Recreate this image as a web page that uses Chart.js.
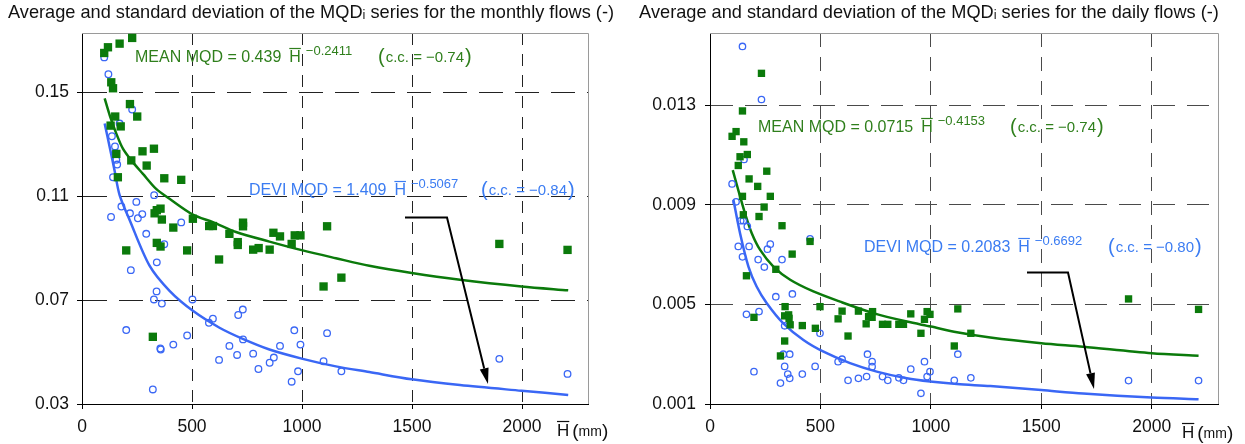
<!DOCTYPE html>
<html>
<head>
<meta charset="utf-8">
<script src="https://cdn.jsdelivr.net/npm/chart.js@4.4.1/dist/chart.umd.min.js"></script>
<style>
    body { margin: 0; background: #fff; }
    .box { position: absolute; top: 0; height: 444px; }
    #leftBox { left: 0; width: 620px; }
    #rightBox { left: 620px; width: 625px; }
</style>
</head>
<body>
<div class="box" id="leftBox"><canvas id="monthlyChart" width="620" height="444"></canvas></div>
<div class="box" id="rightBox"><canvas id="dailyChart" width="625" height="444"></canvas></div>
<script>
// --- Data ---
const xTicks = [0, 500, 1000, 1500, 2000];
const monthlyYTicks = [0.03, 0.07, 0.11, 0.15];
const dailyYTicks = [0.001, 0.005, 0.009, 0.013];

// monthly flows: mean MQD (squares) and st. deviation (circles)
const monthlyMeanH = [101,118,171,228,133,141,218,151,251,130,176,275,327,156,224,294,163,374,451,330,340,357,363,504,415,578,595,732,732,670,708,708,778,803,853,870,900,953,967,993,1114,340,357,201,478,623,1179,1098,322,1897,2207];
const monthlyMeanQ = [0.1653,0.1675,0.1689,0.1711,0.1540,0.1517,0.1456,0.1408,0.1408,0.1373,0.1370,0.1274,0.1284,0.1264,0.1239,0.1219,0.1174,0.1170,0.1164,0.1035,0.1047,0.1053,0.1011,0.1014,0.0980,0.0986,0.0986,0.0999,0.0985,0.0956,0.0924,0.0913,0.0895,0.0901,0.0895,0.0960,0.0946,0.0917,0.0950,0.0950,0.0985,0.0921,0.0907,0.0892,0.0892,0.0857,0.0787,0.0753,0.0559,0.0917,0.0894];
const monthlyDevH = [101,120,228,171,136,150,153,156,160,141,328,247,179,218,274,132,254,451,292,374,340,222,339,327,363,502,201,731,710,595,577,478,356,358,415,670,732,623,705,778,802,853,872,900,965,993,982,953,1114,1098,1179,322,1897,2207];
const monthlyDevQ = [0.1636,0.1571,0.1435,0.1381,0.1332,0.1293,0.1268,0.1241,0.1223,0.1174,0.1105,0.1079,0.1061,0.1035,0.1032,0.1021,0.1016,0.1000,0.0956,0.0916,0.0846,0.0816,0.0734,0.0703,0.0687,0.0703,0.0585,0.0664,0.0643,0.0629,0.0613,0.0564,0.0514,0.0510,0.0529,0.0524,0.0549,0.0470,0.0489,0.0494,0.0435,0.0459,0.0479,0.0524,0.0584,0.0529,0.0426,0.0386,0.0573,0.0465,0.0426,0.0356,0.0474,0.0416];
// fitted curves as drawn
const monthlyMeanFitH = [103,126,156,186,224,277,337,398,504,595,700,852,1003,1154,1306,1499,1718,1998,2210];
const monthlyMeanFitQ = [0.1478,0.1413,0.1342,0.1284,0.1239,0.1187,0.1129,0.1091,0.1030,0.1001,0.0963,0.0926,0.0892,0.0862,0.0833,0.0805,0.0779,0.0753,0.0738];
const monthlyDevFitH = [103,126,148,171,216,307,398,504,625,731,852,1003,1154,1306,1499,1718,1998,2210];
const monthlyDevFitQ = [0.1381,0.1290,0.1200,0.1105,0.1010,0.0833,0.0736,0.0659,0.0594,0.0551,0.0510,0.0474,0.0445,0.0423,0.0395,0.0373,0.0351,0.0335];

// daily flows
const dailyMeanH = [233,147,118,100,153,136,169,128,257,177,216,147,273,245,151,222,326,453,372,298,165,199,340,338,356,358,363,338,319,418,477,498,580,598,625,672,707,718,736,734,781,805,855,876,909,955,971,983,996,1122,1106,1181,1895,2212];
const dailyMeanQ = [0.01428,0.01277,0.01194,0.01175,0.01153,0.01093,0.01102,0.01058,0.01035,0.01004,0.00974,0.00934,0.00934,0.00891,0.00860,0.00853,0.00816,0.00753,0.00702,0.00641,0.00615,0.00448,0.00491,0.00454,0.00458,0.00444,0.00418,0.00353,0.00293,0.00415,0.00404,0.00491,0.00442,0.00473,0.00373,0.00473,0.00422,0.00451,0.00471,0.00448,0.00420,0.00420,0.00420,0.00420,0.00462,0.00384,0.00440,0.00471,0.00460,0.00482,0.00333,0.00384,0.00522,0.00480];
const dailyDevH = [147,233,154,100,118,139,151,169,128,177,147,273,260,218,246,326,453,298,373,165,222,338,498,332,361,338,352,361,319,199,418,476,580,598,625,672,709,713,734,734,781,805,855,876,909,955,971,983,996,1106,1122,1181,1895,2212];
const dailyDevQ = [0.01536,0.01323,0.01082,0.00984,0.00912,0.00836,0.00836,0.00813,0.00733,0.00733,0.00691,0.00742,0.00722,0.00680,0.00650,0.00680,0.00763,0.00531,0.00542,0.00460,0.00471,0.00414,0.00384,0.00300,0.00300,0.00251,0.00220,0.00203,0.00184,0.00230,0.00220,0.00251,0.00270,0.00280,0.00195,0.00203,0.00210,0.00300,0.00270,0.00250,0.00210,0.00195,0.00205,0.00195,0.00240,0.00143,0.00270,0.00210,0.00230,0.00195,0.00300,0.00205,0.00194,0.00194];
const dailyMeanFitH = [103,136,159,189,227,287,363,468,589,740,891,1000,1118,1269,1500,1689,2000,2212];
const dailyMeanFitQ = [0.01039,0.00934,0.00864,0.00786,0.00719,0.00652,0.00599,0.00552,0.00511,0.00465,0.00431,0.00411,0.00388,0.00367,0.00344,0.00330,0.00304,0.00294];
const dailyDevFitH = [106,136,174,211,257,332,423,514,634,755,891,997,1118,1269,1500,1689,2000,2212];
const dailyDevFitQ = [0.00920,0.00786,0.00652,0.00572,0.00505,0.00424,0.00357,0.00310,0.00264,0.00230,0.00203,0.00190,0.00180,0.00172,0.00156,0.00142,0.00126,0.00119];

// --- Styles ---
const FONT = '"Liberation Sans", Arial, sans-serif';
const GREEN = '#0b7a0b';
const GREEN_TXT = '#2f7f1c';
const BLUE = '#3a67f5';
const BLUE_TXT = '#3b7cf2';

function pairs(xs, ys){
    return xs.map((x, i) => ({x: x, y: ys[i]}));
}

// --- Drawing helpers for the annotations ---
function drawFormula(ctx, n){
    ctx.fillStyle = n.color;
    ctx.strokeStyle = n.color;
    ctx.textBaseline = 'alphabetic';
    ctx.font = '16px ' + FONT;
    ctx.fillText(n.label, n.x, n.y);
    let cx = n.x + ctx.measureText(n.label).width + 8;
    ctx.fillText('H', cx, n.y);
    let hw = ctx.measureText('H').width;
    ctx.lineWidth = 1.2;
    ctx.beginPath();
    ctx.moveTo(cx, n.y - 13.5);
    ctx.lineTo(cx + hw, n.y - 13.5);
    ctx.stroke();
    cx += hw + 5;
    ctx.font = '13px ' + FONT;
    ctx.fillText(n.exp, cx, n.y - 7);
}

function drawCC(ctx, c){
    ctx.fillStyle = c.color;
    ctx.textBaseline = 'alphabetic';
    ctx.font = '20px ' + FONT;
    ctx.fillText('(', c.x, c.y + 1);
    let cx = c.x + ctx.measureText('(').width + 1;
    ctx.font = '15px ' + FONT;
    ctx.fillText(c.text, cx, c.y);
    cx += ctx.measureText(c.text).width + 1;
    ctx.font = '20px ' + FONT;
    ctx.fillText(')', cx, c.y + 1);
}

function drawArrow(ctx, pts){
    ctx.strokeStyle = '#000';
    ctx.fillStyle = '#000';
    ctx.lineWidth = 2;
    let last = pts[pts.length - 1], prev = pts[pts.length - 2];
    let ang = Math.atan2(last[1] - prev[1], last[0] - prev[0]);
    let headLen = 16, headW = 4.5;
    let bx = last[0] - Math.cos(ang) * headLen, by = last[1] - Math.sin(ang) * headLen;
    ctx.beginPath();
    ctx.moveTo(pts[0][0], pts[0][1]);
    for (let i = 1; i < pts.length - 1; i++) ctx.lineTo(pts[i][0], pts[i][1]);
    ctx.lineTo(bx, by);
    ctx.stroke();
    ctx.beginPath();
    ctx.moveTo(last[0], last[1]);
    ctx.lineTo(bx + Math.sin(ang) * headW, by - Math.cos(ang) * headW);
    ctx.lineTo(bx - Math.sin(ang) * headW, by + Math.cos(ang) * headW);
    ctx.closePath();
    ctx.fill();
}

function drawAxisName(ctx, x, y){
    ctx.fillStyle = '#111';
    ctx.strokeStyle = '#111';
    ctx.textBaseline = 'alphabetic';
    ctx.font = '17px ' + FONT;
    ctx.fillText('H', x, y);
    let hw = ctx.measureText('H').width;
    ctx.lineWidth = 1.2;
    ctx.beginPath();
    ctx.moveTo(x, y - 14.5);
    ctx.lineTo(x + hw, y - 14.5);
    ctx.stroke();
    let cx = x + hw + 3;
    ctx.font = '19px ' + FONT;
    ctx.fillText('(', cx, y + 1);
    cx += ctx.measureText('(').width;
    ctx.font = '14px ' + FONT;
    ctx.fillText('mm', cx, y);
    cx += ctx.measureText('mm').width;
    ctx.font = '19px ' + FONT;
    ctx.fillText(')', cx, y + 1);
}

const notesPlugin = {
    id: 'notes',
    beforeDatasetsDraw(chart){
        // grey top and right frame
        const ctx = chart.ctx, a = chart.chartArea;
        ctx.save();
        ctx.strokeStyle = '#9a9a9a';
        ctx.lineWidth = 1;
        ctx.beginPath();
        ctx.moveTo(a.left, Math.round(a.top) + 0.5);
        ctx.lineTo(Math.round(a.right) + 0.5, Math.round(a.top) + 0.5);
        ctx.lineTo(Math.round(a.right) + 0.5, a.bottom);
        ctx.stroke();
        ctx.restore();
    },
    afterDraw(chart, args, opts){
        const ctx = chart.ctx;
        ctx.save();
        // chart title
        ctx.fillStyle = '#111';
        ctx.font = '18.2px ' + FONT;
        ctx.textAlign = 'center';
        ctx.textBaseline = 'alphabetic';
        ctx.fillText(opts.title, opts.titleX, 18);
        ctx.textAlign = 'left';
        drawFormula(ctx, opts.mean);
        drawCC(ctx, opts.meanCC);
        drawFormula(ctx, opts.devi);
        drawCC(ctx, opts.deviCC);
        drawArrow(ctx, opts.arrow);
        drawAxisName(ctx, opts.axisName[0], opts.axisName[1]);
        ctx.restore();
    }
};

function buildChart(id, cfg){
    const gridColor = (bottomValue, color) => (c) => (c.tick && Math.abs(c.tick.value - bottomValue) < 1e-9) ? 'rgba(0,0,0,0)' : color;
    return new Chart(document.getElementById(id), {
        type: 'scatter',
        data: {
            datasets: [
                {data: pairs(cfg.meanH, cfg.meanQ), pointStyle: 'rect', pointRadius: cfg.sqR, backgroundColor: GREEN, borderColor: GREEN, borderWidth: 0, clip: false},
                {data: pairs(cfg.devH, cfg.devQ), pointStyle: 'circle', pointRadius: cfg.cirR, backgroundColor: 'rgba(0,0,0,0)', borderColor: BLUE, borderWidth: 1.3, clip: false},
                {data: pairs(cfg.meanFitH, cfg.meanFitQ), showLine: true, pointRadius: 0, borderColor: GREEN, borderWidth: 2.5, tension: 0.3},
                {data: pairs(cfg.devFitH, cfg.devFitQ), showLine: true, pointRadius: 0, borderColor: BLUE, borderWidth: 2.5, tension: 0.3}
            ]
        },
        options: {
            responsive: false,
            animation: false,
            layout: {padding: {left: 0, right: cfg.padRight, top: 33, bottom: 0}},
            plugins: {
                legend: {display: false},
                tooltip: {enabled: false},
                notes: cfg.notes
            },
            scales: {
                x: {
                    type: 'linear', min: 0, max: 2300,
                    afterBuildTicks: (s) => { s.ticks = xTicks.map(v => ({value: v})); },
                    afterFit: (s) => { s.height = 40; },
                    ticks: {color: '#111', font: {family: FONT, size: 17.5}, padding: 8, maxRotation: 0, callback: (v) => String(v)},
                    grid: {color: gridColor(0, cfg.gridColor), tickColor: '#000', tickLength: 5},
                    border: {color: '#000', width: 1, dash: cfg.vDash}
                },
                y: {
                    type: 'linear', min: cfg.yMin, max: cfg.yMax,
                    afterBuildTicks: (s) => { s.ticks = cfg.yTicks.map(v => ({value: v})); },
                    afterFit: (s) => { s.width = cfg.yWidth; },
                    ticks: {color: '#111', font: {family: FONT, size: 17.5}, padding: cfg.yPad, callback: (v) => v.toFixed(cfg.dec)},
                    grid: {color: gridColor(cfg.yMin, cfg.gridColor), tickColor: '#000', tickLength: 5},
                    border: {color: '#000', width: 1, dash: cfg.hDash}
                }
            }
        },
        plugins: [notesPlugin]
    });
}

// --- Monthly chart ---
buildChart('monthlyChart', {
    meanH: monthlyMeanH, meanQ: monthlyMeanQ, devH: monthlyDevH, devQ: monthlyDevQ,
    meanFitH: monthlyMeanFitH, meanFitQ: monthlyMeanFitQ, devFitH: monthlyDevFitH, devFitQ: monthlyDevFitQ,
    yMin: 0.03, yMax: 0.173, yTicks: monthlyYTicks, dec: 2,
    yWidth: 82, yPad: 8, padRight: 32, sqR: 5.9, cirR: 3.3,
    gridColor: '#222', hDash: [24, 12], vDash: [12, 9],
    notes: {
        title: 'Average and standard deviation of the MQDᵢ series for the monthly flows (-)',
        titleX: 311,
        mean: {x: 135, y: 62, color: GREEN_TXT, label: 'MEAN MQD = 0.439', exp: '\u22120.2411'},
        meanCC: {x: 378, y: 62, color: GREEN_TXT, text: 'c.c. = \u22120.74'},
        devi: {x: 249, y: 195, color: BLUE_TXT, label: 'DEVI MQD = 1.409', exp: '\u22120.5067'},
        deviCC: {x: 481, y: 195, color: BLUE_TXT, text: 'c.c. = \u22120.84'},
        arrow: [[405, 217.5], [447, 217.5], [488, 384]],
        axisName: [557, 436]
    }
});

// --- Daily chart ---
buildChart('dailyChart', {
    meanH: dailyMeanH, meanQ: dailyMeanQ, devH: dailyDevH, devQ: dailyDevQ,
    meanFitH: dailyMeanFitH, meanFitQ: dailyMeanFitQ, devFitH: dailyDevFitH, devFitQ: dailyDevFitQ,
    yMin: 0.001, yMax: 0.0159, yTicks: dailyYTicks, dec: 3,
    yWidth: 90, yPad: 9, padRight: 27, sqR: 5.2, cirR: 3.2,
    gridColor: '#4a4a4a', hDash: [22, 12], vDash: [14, 10],
    notes: {
        title: 'Average and standard deviation of the MQDᵢ series for the daily flows (-)',
        titleX: 309,
        mean: {x: 138, y: 132, color: GREEN_TXT, label: 'MEAN MQD = 0.0715', exp: '\u22120.4153'},
        meanCC: {x: 390, y: 132, color: GREEN_TXT, text: 'c.c. = \u22120.74'},
        devi: {x: 244, y: 252, color: BLUE_TXT, label: 'DEVI MQD = 0.2083', exp: '\u22120.6692'},
        deviCC: {x: 488, y: 252, color: BLUE_TXT, text: 'c.c. = \u22120.80'},
        arrow: [[407, 272.5], [448, 272.5], [474, 389]],
        axisName: [562, 438]
    }
});
</script>
</body>
</html>
